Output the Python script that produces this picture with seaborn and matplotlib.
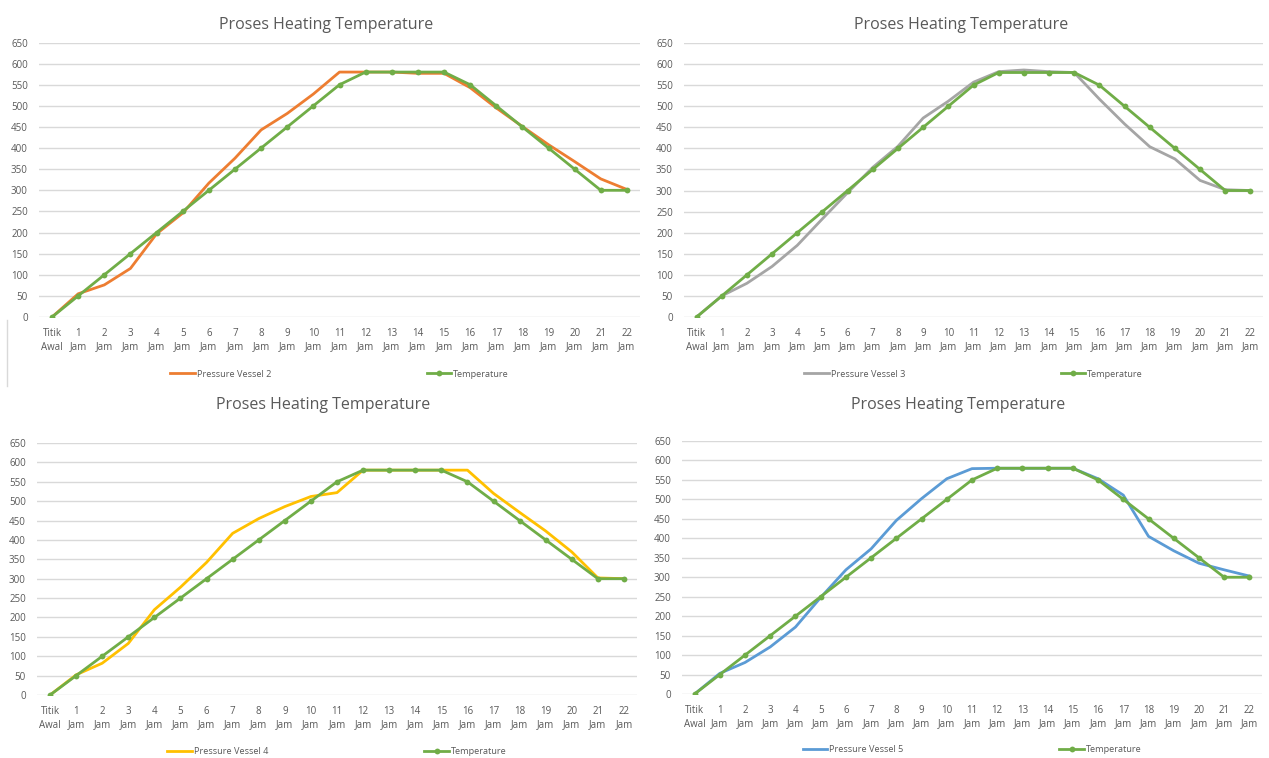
import pandas as pd
import matplotlib.pyplot as plt
import seaborn as sns
import numpy as np
from matplotlib.lines import Line2D

# Categories (x axis)
hours = ["Titik\nAwal"] + [f"{i}\nJam" for i in range(1, 23)]

# Series values
temperature = [0, 50, 100, 150, 200, 250, 300, 350, 400, 450, 500, 550,
               580, 580, 580, 580, 550, 500, 450, 400, 350, 300, 300]
vessel_2 = [0, 55, 76, 115, 197, 246, 317, 376, 443, 482, 528, 580,
            580, 580, 577, 577, 543, 495, 451, 408, 368, 327, 302]
vessel_3 = [0, 50, 80, 120, 170, 233, 295, 355, 405, 472, 512, 557,
            582, 586, 582, 580, 517, 458, 404, 375, 324, 302, 300]
vessel_4 = [0, 52, 82, 133, 220, 278, 342, 417, 455, 486, 512, 522,
            580, 580, 580, 580, 580, 520, 471, 423, 369, 302, 300]
vessel_5 = [0, 53, 81, 121, 172, 248, 319, 373, 446, 502, 553, 579,
            580, 580, 580, 580, 553, 511, 405, 368, 336, 319, 303]

TITLE = "Proses Heating Temperature"
GREEN = "#70AD47"
TEXT = "#595959"

# name, values, colour, plot area (px), title (cx, cy), legend y (px)
panels = [
    ("Pressure Vessel 2", vessel_2, "#ED7D31", (39, 42.5, 640, 317), (326, 25), 374),
    ("Pressure Vessel 3", vessel_3, "#A5A5A5", (684, 43, 1263, 317), (961, 25), 374),
    ("Pressure Vessel 4", vessel_4, "#FFC000", (37, 443, 637, 695), (323, 405), 752),
    ("Pressure Vessel 5", vessel_5, "#5B9BD5", (682, 441, 1262, 694), (958, 405), 750),
]

W, H = 1269, 758
plt.rcParams['font.family'] = ['Open Sans', 'DejaVu Sans']
fig = plt.figure(figsize=(W / 100, H / 100), dpi=100)

for name, values, color, (x0, y0, x1, y1), (tx, ty), ly in panels:
    ax = fig.add_axes([x0 / W, 1 - y1 / H, (x1 - x0) / W, (y1 - y0) / H])
    df = pd.DataFrame({"idx": np.arange(len(hours)), "vessel": values,
                       "temp": temperature})
    sns.lineplot(data=df, x="idx", y="vessel", color=color, lw=2,
                 label=name, ax=ax)
    sns.lineplot(data=df, x="idx", y="temp", color=GREEN, lw=2, marker="o",
                 markersize=4.2, markeredgewidth=0, label="Temperature", ax=ax)
    ax.set_xlim(-0.5, len(hours) - 0.5)
    ax.set_ylim(0, 650)
    ax.set_yticks(range(0, 651, 50))
    ax.set_xticks(range(len(hours)))
    ax.set_xticklabels(hours, linespacing=1.3)
    ax.tick_params(axis="both", length=0, labelsize=7, colors=TEXT)
    ax.tick_params(axis="x", pad=8)
    ax.tick_params(axis="y", pad=8)
    ax.grid(axis="y", color="#D9D9D9", lw=1)
    ax.set_axisbelow(True)
    for s in ax.spines.values():
        s.set_visible(False)
    ax.set_xlabel("")
    ax.set_ylabel("")
    ax.set_facecolor("none")
    fig.text(tx / W, 1 - ty / H, TITLE, ha="center", va="center",
             fontsize=11.5, color=TEXT)
    ax.legend(loc="center", bbox_to_anchor=(0.5, -(ly - y1) / (y1 - y0)),
              ncol=2, frameon=False, fontsize=6.6, labelcolor=TEXT,
              columnspacing=17, handlelength=2.7, handletextpad=0.2)

fig.add_artist(Line2D([7 / W, 7 / W], [1 - 320 / H, 1 - 386 / H],
                      color="#D9D9D9", lw=1))

plt.savefig("out.png", dpi=100)
